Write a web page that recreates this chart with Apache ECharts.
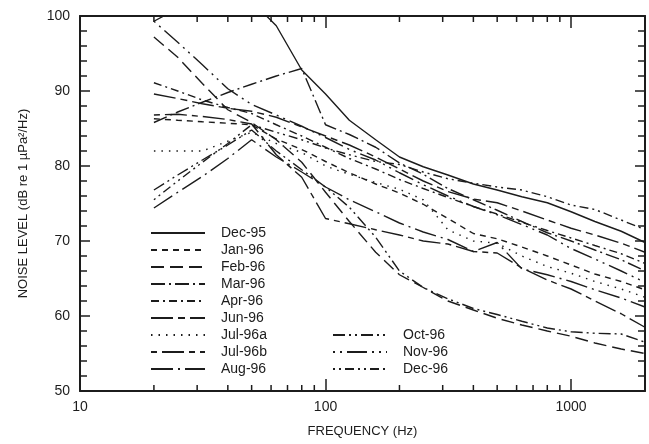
<!DOCTYPE html>
<html>
<head>
<meta charset="utf-8">
<script src="https://cdn.jsdelivr.net/npm/echarts@6/dist/echarts.min.js"></script>
<style>
  html, body { margin: 0; padding: 0; background: #fff; }
  #chart { width: 649px; height: 444px; }
</style>
</head>
<body>
<div id="chart"></div>
<script>
// 1/3-octave band centre frequencies (Hz)
const freqs = [20, 25, 31.5, 40, 50, 63, 80, 100, 125, 160, 200, 250, 315, 400, 500, 630, 800, 1000, 1250, 1600, 2000];

// noise level, dB re 1 uPa^2/Hz
const dec95 = [99.3, 101, 102, 103, 102, 98.7, 92.8, 89.6, 86.1, 83.5, 81.2, 79.9, 78.8, 77.6, 76.8, 75.9, 75.1, 73.9, 72.6, 71.3, 69.8];
const jan96 = [86.3, 86.1, 85.9, 85.7, 85.5, 83.6, 82.2, 80.6, 79.1, 77.6, 76.4, 74.9, 73.0, 71.0, 70.3, 69.2, 68.0, 66.8, 65.6, 64.6, 63.5];
const feb96 = [97.2, 94.5, 91.0, 87.5, 85.8, 83.5, 80.5, 76.5, 72.6, 68.5, 65.5, 63.8, 62.0, 60.8, 59.7, 58.8, 58.0, 57.3, 56.4, 55.6, 55.0];
const mar96 = [85.8, 87.2, 88.5, 89.8, 90.9, 92.0, 93.0, 85.5, 84.2, 82.5, 80.4, 78.9, 77.0, 75.5, 74.1, 72.6, 71.1, 70.0, 68.8, 67.5, 66.0];
const apr96 = [91.1, 90.0, 88.8, 87.8, 87.0, 85.5, 84.0, 82.5, 81.0, 79.6, 78.2, 77.0, 75.8, 74.6, 73.6, 72.5, 71.4, 70.4, 69.4, 68.3, 67.0];
const jun96 = [89.6, 89.0, 88.3, 87.7, 87.3, 86.5, 85.2, 84.0, 82.8, 81.2, 79.6, 78.0, 76.6, 75.6, 75.1, 74.0, 72.8, 71.7, 70.8, 69.7, 68.5];
const jul96a = [82.0, 82.0, 82.0, 83.3, 84.5, 83.0, 81.8, 80.0, 78.9, 77.8, 76.9, 75.5, 71.5, 70.0, 69.7, 68.0, 66.6, 65.7, 64.6, 63.6, 62.5];
const jul96b = [86.8, 86.9, 86.6, 86.2, 85.6, 81.5, 78.5, 73.0, 72.3, 71.5, 70.8, 70.0, 69.6, 68.6, 68.4, 66.4, 64.8, 63.6, 62.0, 60.3, 58.5];
const aug96 = [74.4, 76.5, 78.6, 81.0, 83.5, 81.2, 79.2, 77.2, 75.5, 73.9, 72.4, 71.2, 70.2, 68.6, 69.8, 66.3, 65.5, 64.6, 63.5, 62.4, 61.2];
const oct96 = [76.8, 78.8, 80.8, 82.8, 84.8, 82.0, 79.5, 77.2, 74.5, 70.5, 66.0, 63.8, 62.3, 61.0, 60.2, 59.3, 58.4, 57.9, 57.7, 57.6, 56.5];
const nov96 = [99.3, 96.5, 93.5, 90.3, 88.2, 86.8, 85.3, 83.8, 82.2, 80.8, 79.1, 77.5, 76.0, 74.6, 73.5, 72.2, 70.8, 69.0, 67.6, 66.0, 64.5];
const dec96 = [75.5, 78.0, 80.5, 83.0, 85.5, 84.5, 83.5, 82.4, 81.5, 80.6, 80.2, 79.2, 78.3, 77.7, 77.2, 76.8, 75.9, 74.8, 74.2, 72.8, 71.5];

const xMajorTicks = [10, 100, 1000];
const xMinorTicks = [20, 30, 40, 50, 60, 70, 80, 90, 200, 300, 400, 500, 600, 700, 800, 900];

const INK = "#1c1c1c";
const FONT = "Liberation Sans, Arial, sans-serif";
// explicit "solid" dash so tick strokes never pick up a leftover dash pattern
const SOLID_DASH = [60, 1];

// name, values, dash pattern, legend group
const SERIES = [
  ["Dec-95", dec95, "solid", 0],
  ["Jan-96", jan96, [6, 5], 0],
  ["Feb-96", feb96, [13, 6], 0],
  ["Mar-96", mar96, [14, 4, 2, 4], 0],
  ["Apr-96", apr96, [8, 4, 2, 4], 0],
  ["Jun-96", jun96, [22, 5, 7, 5], 0],
  ["Jul-96a", jul96a, [1.5, 6], 0],
  ["Jul-96b", jul96b, [6, 5, 22, 5], 0],
  ["Aug-96", aug96, [22, 5, 2, 5], 0],
  ["Oct-96", oct96, [12, 4, 2, 4, 2, 4], 1],
  ["Nov-96", nov96, [2, 5, 2, 5, 20, 5], 1],
  ["Dec-96", dec96, [2, 4, 2, 4, 9, 4], 1],
];

const chart = echarts.init(document.getElementById("chart"));

const legendBase = {
  orient: "vertical",
  zlevel: 1,
  padding: 0,
  itemWidth: 54,
  itemHeight: 14,
  itemGap: 3,
  selectedMode: false,
  itemStyle: { opacity: 0 },
  textStyle: { fontFamily: FONT, fontSize: 14, color: INK, padding: [0, 0, 0, 11] },
};

const tickLine = { color: INK, width: 1.5, type: SOLID_DASH };
const majorTick = len => ({ show: true, inside: true, length: len, lineStyle: tickLine });

// short minor ticks on the log x axis (bottom and top edges)
function renderMinorTick(params, api) {
  const f = api.value(0);
  const b = api.coord([f, 50]);
  const t = api.coord([f, 100]);
  const style = { stroke: INK, lineWidth: 1.5, lineDash: SOLID_DASH };
  return {
    type: "group",
    children: [
      { type: "line", shape: { x1: b[0], y1: b[1], x2: b[0], y2: b[1] - 6 }, style: style },
      { type: "line", shape: { x1: t[0], y1: t[1], x2: t[0], y2: t[1] + 6 }, style: style },
    ],
  };
}

chart.setOption({
  backgroundColor: "#fff",
  animation: false,
  grid: { left: 80, right: 4, top: 16, bottom: 53 },
  legend: [
    Object.assign({}, legendBase, { left: 150, top: 226, data: SERIES.filter(s => s[3] === 0).map(s => s[0]) }),
    Object.assign({}, legendBase, { left: 332, top: 328, data: SERIES.filter(s => s[3] === 1).map(s => s[0]) }),
  ],
  xAxis: [
    {
      type: "log", logBase: 10, min: 10, max: 2000, position: "bottom",
      name: "FREQUENCY (Hz)", nameLocation: "middle", nameGap: 34,
      nameTextStyle: { fontFamily: FONT, fontSize: 13, color: INK },
      axisLine: { show: true, lineStyle: { color: INK, width: 2 } },
      axisTick: majorTick(12),
      axisLabel: {
        fontFamily: FONT, fontSize: 14, color: INK, margin: 9,
        formatter: v => (xMajorTicks.indexOf(Math.round(v)) >= 0 ? String(Math.round(v)) : ""),
      },
      splitLine: { show: false },
    },
    {
      type: "log", logBase: 10, min: 10, max: 2000, position: "top",
      axisLine: { show: true, lineStyle: { color: INK, width: 2 } },
      axisTick: majorTick(12),
      axisLabel: { show: false },
      splitLine: { show: false },
    },
  ],
  yAxis: [
    {
      type: "value", min: 50, max: 100, interval: 10, position: "left",
      name: "NOISE LEVEL (dB re 1 \u00b5Pa\u00b2/Hz)", nameLocation: "middle", nameGap: 50,
      nameTextStyle: { fontFamily: FONT, fontSize: 13, color: INK },
      axisLine: { show: true, lineStyle: { color: INK, width: 2 } },
      axisTick: majorTick(10),
      minorTick: { show: true, splitNumber: 5, length: 7, lineStyle: tickLine },
      axisLabel: { fontFamily: FONT, fontSize: 14, color: INK, margin: 10 },
      splitLine: { show: false },
      minorSplitLine: { show: false },
    },
    {
      type: "value", min: 50, max: 100, interval: 10, position: "right",
      axisLine: { show: true, lineStyle: { color: INK, width: 2 } },
      axisTick: majorTick(10),
      minorTick: { show: true, splitNumber: 5, length: 7, lineStyle: tickLine },
      axisLabel: { show: false },
      splitLine: { show: false },
      minorSplitLine: { show: false },
    },
  ],
  series: [{
    name: "minorTicks",
    type: "custom",
    zlevel: 0,
    xAxisIndex: 0,
    yAxisIndex: 0,
    silent: true,
    clip: false,
    renderItem: renderMinorTick,
    data: xMinorTicks.map(f => [f]),
    encode: { x: 0 },
  }].concat(SERIES.map(([name, vals, dash]) => ({
    name: name,
    type: "line",
    zlevel: 1,
    xAxisIndex: 0,
    yAxisIndex: 0,
    symbol: "none",
    clip: true,
    data: freqs.map((f, i) => [f, vals[i]]),
    lineStyle: { color: INK, width: 1.4, type: dash },
    itemStyle: { color: INK },
  }))),
});
</script>
</body>
</html>
